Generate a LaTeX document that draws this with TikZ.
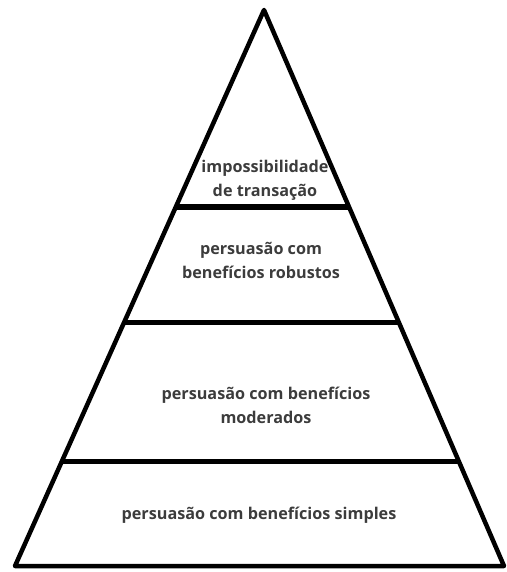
\documentclass[tikz,border=0pt]{standalone}
\usepackage{fontspec}
\setmainfont{Open Sans}
\usetikzlibrary{calc}
\definecolor{inkmain}{HTML}{000000}
\definecolor{textgray}{HTML}{3C3C3C}
\tikzset{outline/.style={line width=4.5pt,inkmain,line join=round},
divider/.style={line width=5.5pt,inkmain},
tier/.style={font=\bfseries\fontsize{16.2}{24}\selectfont,text=textgray,align=center}}

\begin{document}
\begin{tikzpicture}[x=1pt,y=-1pt]
\useasboundingbox (0,0) rectangle (506,572);
\coordinate (apex) at (264,10);
\coordinate (bl) at (15,566);
\coordinate (br) at (504,566);
\draw[outline] (bl)--(apex)--(br)--cycle;
\foreach \n/\t in {a/0.354,b/0.562,c/0.812} {
\coordinate (l\n) at ($(apex)!\t!(bl)$);
\coordinate (r\n) at ($(apex)!\t!(br)$);
\draw[divider] (l\n)--(r\n);}
\node[tier] (top) at (265,180) {impossibilidade\\de transação};
\node[tier] (robust) at (261,260) {persuasão com\\benefícios robustos};
\node[tier] (moder) at (266,405) {persuasão com benefícios\\moderados};
\node[tier] (simple) at (259,515) {persuasão com benefícios simples};
\end{tikzpicture}
\end{document}
